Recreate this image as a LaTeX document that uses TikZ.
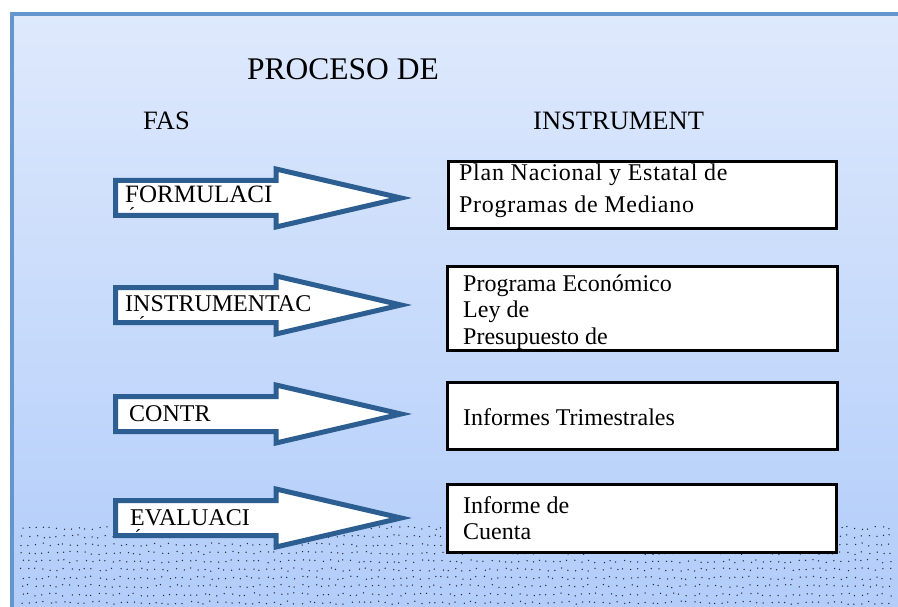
\documentclass[tikz,border=0pt]{standalone}
\usepackage{fontspec}
\setmainfont{Liberation Serif}
\newfontfamily\spacedserif[LetterSpace=3]{Liberation Serif}
\definecolor{framecol}{RGB}{100,150,205}
\definecolor{bgtop}{RGB}{222,233,252}
\definecolor{bgbot}{RGB}{178,205,250}
\definecolor{arrowcol}{RGB}{44,94,145}
\definecolor{dotcol}{RGB}{40,45,60}
\newcommand\fsz[1]{\fontsize{#1}{#1}\selectfont}
\tikzset{
  arrowst/.style={draw=arrowcol, fill=white, line width=5pt, line join=miter},
  boxst/.style={draw=black, fill=white, line width=3pt},
  lbl/.style={anchor=base west, inner sep=0pt, font=\fsz{24}},
  head/.style={anchor=base west, inner sep=0pt, font=\fsz{26.5}},
  accent/.style={anchor=north, inner sep=0pt, font=\fsz{20}},
}
\begin{document}
\begin{tikzpicture}[x=1pt,y=-1pt]
\useasboundingbox (0,0) rectangle (898,607);
\fill[white] (0,0) rectangle (898,607);
\shade[top color=bgtop, bottom color=bgbot] (12,13) rectangle (898,607);
% dotted area
\pgfmathsetseed{11}
\foreach \j in {0,...,9} {
  \foreach \i in {0,...,124} {
    \pgfmathsetmacro\xx{22+7*\i+1.6*rand}
    \pgfmathsetmacro\yy{528+8.3*\j+1.6*rand}
    \fill[dotcol] (\xx,\yy) circle (0.75);
  }
}
% frame
\draw[framecol, line width=3.5pt] (12,607) -- (12,14) -- (898,14);
% titles
\node[anchor=base west, inner sep=0pt, font=\fsz{31.5}] (title) at (247,80) {PROCESO DE};
\node[head] (fas) at (143,130) {FAS};
\node[head] (instr) at (533,130) {INSTRUMENT};
% arrows
\foreach \y/\nm in {198/a1,305/a2,414/a3,518/a4} {
  \draw[arrowst] (115.5,\y-17.5) -- (276,\y-17.5) -- (276,\y-29) -- (401,\y)
     -- (276,\y+29) -- (276,\y+17.5) -- (115.5,\y+17.5) -- cycle;
  \coordinate (\nm) at (115.5,\y);
}
\node[lbl, font=\fsz{25}] (f1) at (125,203) {FORMULACI};
\node[lbl] (f2) at (125,312) {INSTRUMENTAC};
\node[lbl] (f3) at (129,421) {CONTR};
\node[lbl] (f4) at (130,525) {EVALUACI};
\node[accent] (ac1) at (132,207) {´};
\node[accent] (ac2) at (142,316) {´};
\node[accent] (ac4) at (138,529) {´};
% boxes
\draw[boxst] (448.5,161.5) rectangle (836.5,228.5);
\draw[boxst] (447.5,266.5) rectangle (837.5,350.5);
\draw[boxst] (447.5,382.5) rectangle (837.5,449.5);
\draw[boxst] (447.5,484.5) rectangle (836.5,552.5);
\node[lbl, font=\fsz{24}\spacedserif] (t11) at (459,181) {Plan Nacional y Estatal de};
\node[lbl, font=\fsz{24}\spacedserif] (t12) at (459,213) {Programas de Mediano};
\node[lbl] (t21) at (463,291) {Programa Económico};
\node[lbl] (t22) at (463,317) {Ley de};
\node[lbl] (t23) at (463,344) {Presupuesto de};
\node[lbl] (t31) at (463,425) {Informes Trimestrales};
\node[lbl] (t41) at (463,513) {Informe de};
\node[lbl] (t42) at (463,539) {Cuenta};
\end{tikzpicture}
\end{document}
